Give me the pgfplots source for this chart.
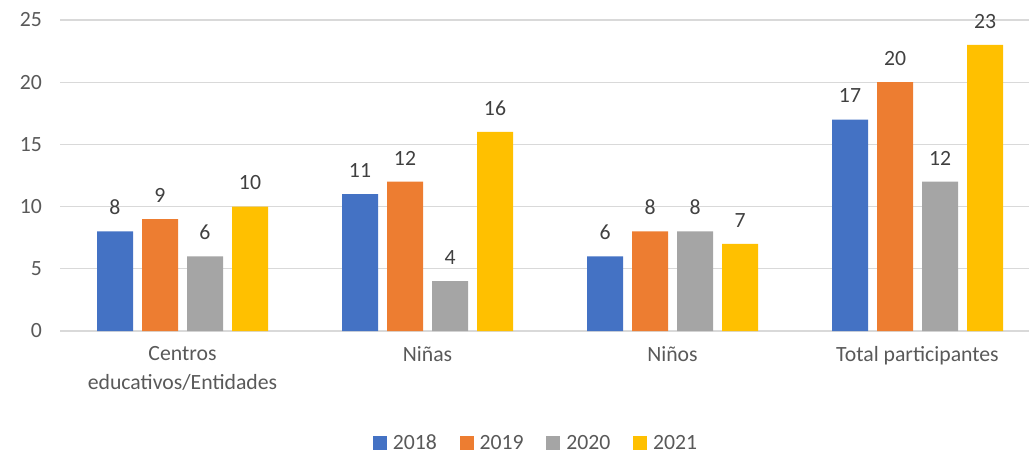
\documentclass[border=0pt]{standalone}
\usepackage{fontspec}
\setmainfont{Carlito}
\usepackage{pgfplots}
\pgfplotsset{compat=1.18}
\definecolor{cA}{HTML}{4472C4}
\definecolor{cB}{HTML}{ED7D31}
\definecolor{cC}{HTML}{A5A5A5}
\definecolor{cD}{HTML}{FFC000}
\definecolor{gridc}{HTML}{D9D9D9}
\definecolor{txt}{HTML}{595959}
\definecolor{lbl}{HTML}{404040}
\begin{document}
\begin{tikzpicture}
\begin{axis}[name=ax,
  scale only axis, width=735pt, height=233.25pt,
  ymin=0, ymax=25, xmin=-0.5, xmax=3.5,
  ybar=6.75pt, bar width=27pt,
  ytick={0,5,...,25}, xtick={0,1,2,3},
  xticklabels={{Centros\\educativos/Entidades},Niñas,Niños,Total participantes},
  xticklabel style={align=center, font=\fontsize{16.3}{21.75}\selectfont, text=txt, yshift=-8pt},
  yticklabel style={font=\fontsize{16.3}{19.5}\selectfont, text=txt, xshift=-10pt},
  /pgf/number format/assume math mode=true,
  major tick length=0pt,
  ymajorgrids, grid style={gridc, line width=0.9pt},
  axis x line*=bottom, axis y line*=left,
  x axis line style={gridc, line width=0.9pt, -},
  y axis line style={draw=none},
  nodes near coords,
  every node near coord/.append style={font=\fontsize{16.3}{19.5}\selectfont, text=lbl, yshift=9pt},
  legend columns=4,
  legend style={draw=none, at={(0.486,-0.36)}, anchor=center, font=\fontsize{16.3}{19.5}\selectfont, text=txt,
    /tikz/every odd column/.append style={column sep=2.5pt},
    /tikz/every even column/.append style={column sep=15pt}},
  legend image code/.code={\fill[#1] (0pt,-5.25pt) rectangle (10.5pt,5.25pt);},
]
\addplot[fill=cA, draw=none] coordinates {(0,8) (1,11) (2,6) (3,17)};
\addplot[fill=cB, draw=none] coordinates {(0,9) (1,12) (2,8) (3,20)};
\addplot[fill=cC, draw=none] coordinates {(0,6) (1,4) (2,8) (3,12)};
\addplot[fill=cD, draw=none] coordinates {(0,10) (1,16) (2,7) (3,23)};
\legend{2018,2019,2020,2021}
\end{axis}
\pgfresetboundingbox
\path ([shift={(-45pt,-95.25pt)}]ax.south west) rectangle ([shift={(-8.25pt,15pt)}]ax.north east);
\end{tikzpicture}
\end{document}
